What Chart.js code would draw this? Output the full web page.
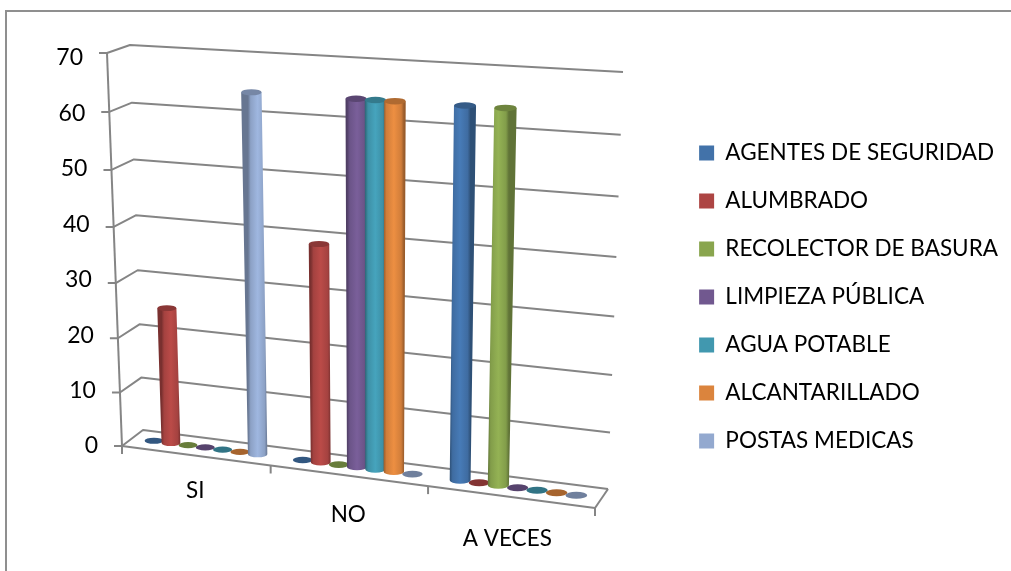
<!DOCTYPE html>
<html>
<head>
<meta charset="utf-8">
<title>Servicios</title>
<script src="https://cdn.jsdelivr.net/npm/chart.js@4"></script>
<style>
  html, body { margin: 0; padding: 0; background: #fff; }
  canvas { display: block; }
</style>
</head>
<body>
<canvas id="mycanvas" width="1011" height="571"></canvas>
<script>
var categories = ["SI", "NO", "A VECES"];
var yTicksMax = 70;
var yTicksStep = 10;

var agentes = [0, 0, 64];
var alumbrado = [25, 39, 0];
var recolector = [0, 0, 64];
var limpieza = [0, 64, 0];
var agua = [0, 64, 0];
var alcantarillado = [0, 64, 0];
var postas = [64, 0, 0];

var seriesNames = ["AGENTES DE SEGURIDAD", "ALUMBRADO", "RECOLECTOR DE BASURA", "LIMPIEZA PÚBLICA", "AGUA POTABLE", "ALCANTARILLADO", "POSTAS MEDICAS"];
var seriesColors = ["#4272a9", "#ad4543", "#89a54e", "#71588f", "#4198af", "#db843d", "#93a9cf"];
var seriesValues = [agentes, alumbrado, recolector, limpieza, agua, alcantarillado, postas];

var gridColor = "#858585";
var fontName = "Lato, Carlito, sans-serif";

// the two faces of the 3D box: tl, tr, br, bl
var frontFace = [[107, 53], [609, 81], [595, 508], [122, 446]];
var backFace = [[130, 45], [623, 72], [608, 489], [143, 430]];

// unit square -> quad, plain perspective mapping
function makeQuadMap(q) {
  var x0 = q[0][0], y0 = q[0][1], x1 = q[1][0], y1 = q[1][1];
  var x2 = q[2][0], y2 = q[2][1], x3 = q[3][0], y3 = q[3][1];
  var sx = x0 - x1 + x2 - x3, sy = y0 - y1 + y2 - y3;
  var dx1 = x1 - x2, dx2 = x3 - x2, dy1 = y1 - y2, dy2 = y3 - y2;
  var den = dx1 * dy2 - dx2 * dy1;
  var g = (sx * dy2 - dx2 * sy) / den;
  var h = (dx1 * sy - sx * dy1) / den;
  var a = x1 - x0 + g * x1, b = x3 - x0 + h * x3;
  var d = y1 - y0 + g * y1, e = y3 - y0 + h * y3;
  return function(u, v) {
    var w = g * u + h * v + 1;
    return { x: (a * u + b * v + x0) / w, y: (d * u + e * v + y0) / w };
  };
}
var toFront = makeQuadMap(frontFace);
var toBack = makeQuadMap(backFace);

// chart pixel + depth (0 front, 1 back) -> screen point
function project(chart, px, py, depth) {
  var area = chart.chartArea;
  var u = (px - area.left) / (area.right - area.left);
  var v = (py - area.top) / (area.bottom - area.top);
  var f = toFront(u, v), b = toBack(u, v);
  return { x: f.x + (b.x - f.x) * depth, y: f.y + (b.y - f.y) * depth };
}

function shade(hex, k) {
  var n = parseInt(hex.slice(1), 16);
  var r = Math.min(255, Math.round((n >> 16 & 255) * k));
  var g = Math.min(255, Math.round((n >> 8 & 255) * k));
  var b = Math.min(255, Math.round((n & 255) * k));
  return "rgb(" + r + "," + g + "," + b + ")";
}

function line(ctx, a, b) {
  ctx.beginPath();
  ctx.moveTo(a.x, a.y);
  ctx.lineTo(b.x, b.y);
  ctx.stroke();
}

function drawBox(chart, ctx) {
  var y = chart.scales.y, area = chart.chartArea;
  ctx.save();
  ctx.strokeStyle = gridColor;
  ctx.lineWidth = 2;
  ctx.lineJoin = "round";

  // walls
  y.ticks.forEach(function(t) {
    var py = y.getPixelForValue(t.value);
    var a = project(chart, area.left, py, 0);
    var b = project(chart, area.left, py, 1);
    var c = project(chart, area.right, py, 1);
    ctx.beginPath();
    ctx.moveTo(a.x - 8, a.y);
    ctx.lineTo(a.x, a.y);
    ctx.lineTo(b.x, b.y);
    ctx.lineTo(c.x, c.y);
    ctx.stroke();
  });
  line(ctx, project(chart, area.left, area.top, 0), project(chart, area.left, area.bottom, 0));

  // floor
  var fl = project(chart, area.left, area.bottom, 0);
  var fr = project(chart, area.right, area.bottom, 0);
  var br = project(chart, area.right, area.bottom, 1);
  line(ctx, fl, fr);
  line(ctx, fr, br);

  // category separators below the front edge
  var n = categories.length;
  for (var i = 0; i <= n; i++) {
    var px = area.left + (area.right - area.left) * i / n;
    var p = project(chart, px, area.bottom, 0);
    line(ctx, p, { x: p.x, y: p.y + 8 });
  }
  ctx.restore();
}

function drawCylinder(chart, ctx, bar, color) {
  var half = bar.width / 2;
  var lb = project(chart, bar.x - half, bar.base, 0.5);
  var rb = project(chart, bar.x + half, bar.base, 0.5);
  var lt = project(chart, bar.x - half, bar.y, 0.5);
  var rt = project(chart, bar.x + half, bar.y, 0.5);
  var rxB = (rb.x - lb.x) / 2, ryB = rxB * 0.33;
  var rxT = (rt.x - lt.x) / 2, ryT = rxT * 0.3;
  var cb = { x: (lb.x + rb.x) / 2, y: (lb.y + rb.y) / 2 };
  var ct = { x: (lt.x + rt.x) / 2, y: (lt.y + rt.y) / 2 };

  ctx.save();
  if (Math.abs(bar.base - bar.y) < 0.5) {
    // zero value, only the flat disc
    ctx.fillStyle = shade(color, 0.76);
    ctx.beginPath();
    ctx.ellipse(cb.x, cb.y, rxB, ryB, 0, 0, Math.PI * 2);
    ctx.fill();
    ctx.restore();
    return;
  }
  var grad = ctx.createLinearGradient(lb.x, 0, rb.x, 0);
  grad.addColorStop(0, shade(color, 0.7));
  grad.addColorStop(0.14, shade(color, 0.95));
  grad.addColorStop(0.5, shade(color, 1.08));
  grad.addColorStop(0.86, shade(color, 0.95));
  grad.addColorStop(1, shade(color, 0.7));
  ctx.fillStyle = grad;
  ctx.beginPath();
  ctx.moveTo(lt.x, ct.y);
  ctx.lineTo(lb.x, cb.y);
  ctx.ellipse(cb.x, cb.y, rxB, ryB, 0, Math.PI, 0, true);
  ctx.lineTo(rt.x, ct.y);
  ctx.closePath();
  ctx.fill();

  ctx.fillStyle = shade(color, 0.8);
  ctx.beginPath();
  ctx.ellipse(ct.x, ct.y, rxT, ryT, 0, 0, Math.PI * 2);
  ctx.fill();
  ctx.restore();
}

var boxPlugin = {
  id: "box3d",
  beforeDraw: function(chart) {
    // frame of the chart object, only top and left reach the page
    var ctx = chart.ctx;
    ctx.save();
    ctx.strokeStyle = "#8f8f8f";
    ctx.lineWidth = 2;
    ctx.beginPath();
    ctx.moveTo(6, chart.height);
    ctx.lineTo(6, 11);
    ctx.lineTo(chart.width, 11);
    ctx.stroke();
    ctx.restore();
  },
  beforeDatasetsDraw: function(chart) {
    var ctx = chart.ctx;
    drawBox(chart, ctx);

    // flat discs go first so the cylinders sit over them
    [true, false].forEach(function(flat) {
      chart.data.datasets.forEach(function(ds, i) {
        chart.getDatasetMeta(i).data.forEach(function(bar, j) {
          if ((ds.data[j] === 0) === flat) {
            drawCylinder(chart, ctx, bar, ds.backgroundColor);
          }
        });
      });
    });

    var x = chart.scales.x, y = chart.scales.y, area = chart.chartArea;
    ctx.save();
    ctx.fillStyle = "#000";
    ctx.textBaseline = "middle";

    // value labels slide along the slanted left edge
    ctx.font = "23px " + fontName;
    ctx.textAlign = "right";
    y.ticks.forEach(function(t) {
      var py = y.getPixelForValue(t.value);
      ctx.fillText(t.label, project(chart, area.left, py, 0).x - 24, py);
    });

    // category names follow the slope of the front edge
    ctx.font = "22.5px " + fontName;
    ctx.textAlign = "center";
    categories.forEach(function(name, i) {
      var p = project(chart, x.getPixelForValue(i), area.bottom, 0);
      ctx.fillText(name, p.x - 1.5 * i * (i - 1), p.y + 35.5 + 3.2 * i);
    });
    ctx.restore();
    return false;
  }
};

var datasets = [];
for (var i = 0; i < seriesNames.length; i++) {
  datasets.push({
    label: seriesNames[i],
    data: seriesValues[i],
    backgroundColor: seriesColors[i],
    barPercentage: 1.1,
    categoryPercentage: 0.82
  });
}

var ctx = document.getElementById("mycanvas");
var barGraph = new Chart(ctx, {
  type: "bar",
  data: { labels: categories, datasets: datasets },
  plugins: [boxPlugin],
  options: {
    responsive: false,
    animation: false,
    layout: { padding: { left: 58, right: 3, top: 58, bottom: 35 } },
    plugins: {
      tooltip: { enabled: false },
      legend: {
        position: "right",
        maxWidth: 340,
        labels: {
          color: "#000",
          font: { family: fontName, size: 22.5 },
          boxWidth: 15,
          boxHeight: 15,
          padding: 25.5
        }
      }
    },
    scales: {
      x: {
        grid: { display: false },
        border: { display: false },
        ticks: { display: false },
        afterFit: function(scale) { scale.height = 90; }
      },
      y: {
        min: 0,
        max: yTicksMax,
        grid: { display: false },
        border: { display: false },
        ticks: { display: false, stepSize: yTicksStep }
      }
    }
  }
});
</script>
</body>
</html>
